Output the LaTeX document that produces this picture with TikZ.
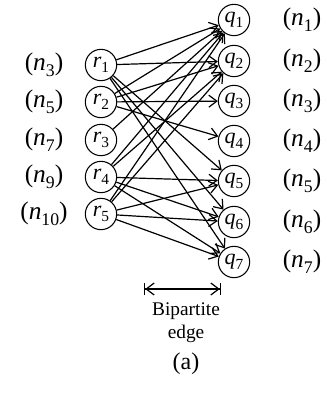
\documentclass[tikz,border=0pt]{standalone}
\usepackage{fontspec}
\setmainfont{Liberation Serif}
\usetikzlibrary{arrows.meta}
\newcommand{\lab}[2]{\textit{#1}\raisebox{-0.25em}{\fontsize{0.7em}{0.7em}\selectfont #2}}
\begin{document}
\begin{tikzpicture}[x=0.75pt,y=-0.75pt,
    every node/.style={font=\fontsize{19}{23}\selectfont},
    vertice/.style={circle, draw, line width=0.8pt, minimum size=23.5pt, inner sep=0pt},
    arco/.style={line width=0.9pt, -{Straight Barb[length=6pt,width=9pt]}},
    legenda/.style={font=\fontsize{14.5}{17}\selectfont}]
    \useasboundingbox (0,0) rectangle (326,394);
    % Nodi r (sinistra)
    \foreach \i/\y/\n in {1/65/3, 2/102/5, 3/140/7, 4/177/9, 5/214/10} {
        \node[vertice, label={[font=\fontsize{16.5}{18}\selectfont]center:\lab{r}{\i}}] (r\i) at (101,\y) {};
        \node (nr\i) at (44,\y) {(\lab{n}{\n})};
    }
    % Nodi q (destra)
    \foreach \j/\y in {1/20, 2/61, 3/101, 4/141, 5/181, 6/222, 7/262} {
        \node[vertice, label={[font=\fontsize{16.5}{18}\selectfont]center:\lab{q}{\j}}] (q\j) at (234,\y) {};
        \node (nq\j) at (302,\y) {(\lab{n}{\j})};
    }
    % Archi
    \foreach \a/\b in {1/1, 1/2, 1/5, 1/6, 1/7,
                       2/1, 2/2, 2/3, 2/4,
                       3/1,
                       4/1, 4/2, 4/5, 4/6, 4/7,
                       5/1, 5/2, 5/5, 5/6, 5/7}
        \draw[arco] (r\a) -- (q\b);
    % Legenda
    \coordinate (L1) at (144,289);
    \coordinate (L2) at (221,289);
    \draw[line width=0.9pt, {Bar[width=9pt]Straight Barb[length=6pt,width=9pt]}-{Straight Barb[length=6pt,width=9pt]Bar[width=9pt]}] (L1) -- (L2);
    \node[legenda] (bip) at (186,311) {Bipartite};
    \node[legenda] (edg) at (186,334) {edge};
    \node[legenda, font=\fontsize{18}{20}\selectfont] (cap) at (186,364) {(a)};
\end{tikzpicture}
\end{document}
